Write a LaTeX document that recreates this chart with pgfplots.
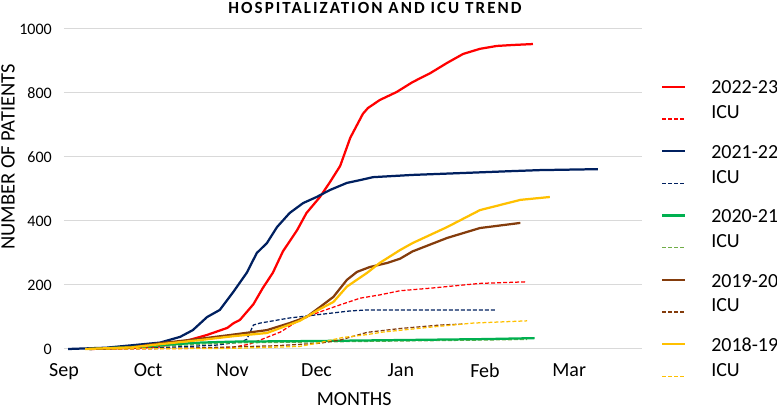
\documentclass[border=0pt]{standalone}
\usepackage{fontspec}
\setmainfont{Carlito}
\newfontfamily\titlefont[LetterSpace=12]{Carlito}
\usepackage{pgfplots}
\pgfplotsset{compat=1.18}
\definecolor{c22}{HTML}{FF0000}
\definecolor{c21}{HTML}{002060}
\definecolor{c20}{HTML}{00B050}
\definecolor{c20i}{HTML}{70AD47}
\definecolor{c19}{HTML}{843C0C}
\definecolor{c18}{HTML}{FFC000}
\definecolor{gridc}{HTML}{D9D9D9}
\newcommand\yr[1]{\rule{0pt}{16bp}#1}
\newcommand\icu{\rule{0pt}{16bp}\smash{\raisebox{7.5bp}{ICU}}}
\begin{document}
\begin{tikzpicture}
\useasboundingbox (0,0) rectangle (777bp,410bp);
\begin{axis}[
  at={(64bp,61bp)}, anchor=south west,
  scale only axis, width=578bp, height=320bp,
  xmin=0, xmax=6.865, ymin=0, ymax=1000,
  clip=false,
  axis line style={draw=none},
  xtick={0,...,6}, xticklabels={Sep,Oct,Nov,Dec,Jan,Feb,Mar},
  ytick={0,200,...,1000},
  major tick length=0pt,
  ymajorgrids, grid style={gridc, line width=1bp},
  /pgf/number format/assume math mode=true,
  /pgf/number format/set thousands separator={},
  xticklabel style={font=\fontsize{20bp}{20bp}\selectfont, inner sep=0pt, yshift=-14bp},
  yticklabel style={font=\fontsize{16bp}{16bp}\selectfont, inner sep=0pt, xshift=-12bp},
  xlabel={MONTHS},
  xlabel style={font=\fontsize{20bp}{20bp}\selectfont, at={(axis description cs:0.502,-0.178)}, anchor=base, inner sep=0pt},
  ylabel={NUMBER OF PATIENTS},
  ylabel style={font=\fontsize{20.5bp}{20.5bp}\selectfont, at={(axis description cs:-0.097,0.6)}, anchor=center, inner sep=0pt},
  legend style={at={(axis description cs:1.0329,0.847)}, anchor=north west, draw=none, fill=none,
    inner sep=0pt, outer sep=0pt, row sep=14.7bp,
    nodes={inner sep=0pt, font=\fontsize{20bp}{20bp}\selectfont},
    /tikz/every odd column/.append style={column sep=25bp}},
  legend cell align=left,
  legend image code/.code={\draw[#1] (0bp,0bp) -- (23bp,0bp);},
  main/.style={line width=2.25pt, line join=round},
  icu/.style={line width=1.25bp, dash pattern=on 4bp off 2bp},
]
\node[anchor=base, inner sep=0pt, font=\titlefont\bfseries\fontsize{17bp}{17bp}\selectfont]
  at (axis description cs:0.538,1.0469) {HOSPITALIZATION AND ICU TREND};
% 2022-23
\addplot[main, c22] coordinates {
(0.3,0) (0.8,3) (1.14,8) (1.46,26) (1.70,44) (1.94,66) (2.01,80) (2.09,91) (2.25,140)
(2.36,190) (2.48,238) (2.60,305) (2.77,372) (2.88,425) (3.04,475) (3.16,522)
(3.28,572) (3.40,660) (3.55,735) (3.61,753) (3.75,778) (3.95,803) (4.14,834)
(4.35,862) (4.55,894) (4.74,922) (4.94,938) (5.14,947) (5.33,950) (5.57,953)};
\addlegendentry{\yr{2022-23}}
\addplot[icu, c22] coordinates {
(0.5,0) (1.5,2) (2.0,5) (2.2,15) (2.33,28) (2.57,53) (2.80,91) (3.04,116)
(3.28,138) (3.52,159) (3.75,169) (3.99,182) (4.35,190) (4.94,205) (5.50,210)};
\addlegendentry{\icu}
% 2021-22
\addplot[main, c21] coordinates {
(0.05,0) (0.5,4) (0.82,12) (1.14,20) (1.38,38) (1.53,59) (1.70,100) (1.85,122)
(2.01,178) (2.17,238) (2.29,300) (2.41,331) (2.53,381) (2.68,425) (2.84,456)
(3.00,475) (3.16,497) (3.36,519) (3.52,528) (3.67,537) (4.14,544) (4.74,550)
(5.33,556) (5.65,559) (6.34,562)};
\addlegendentry{\yr{2021-22}}
\addplot[icu, c21] coordinates {
(0.5,0) (1.2,5) (1.8,12) (2.1,22) (2.17,30) (2.25,75) (2.33,81) (2.68,97)
(3.04,108) (3.40,119) (3.60,122) (5.14,122)};
\addlegendentry{\icu}
% 2020-21 (ICU series drawn first, underneath)
\addplot[icu, c20i, forget plot] coordinates {
(0.5,0) (1.14,8) (1.62,15) (2.0,19) (3.0,22) (4.0,25) (5.0,28) (5.5,30)};
\addplot[main, c20] coordinates {
(0.3,0) (0.8,6) (1.14,12) (1.62,20) (2.0,23) (3.0,25) (4.0,28) (5.0,31) (5.59,34)};
\addlegendentry{\yr{2020-21}}
\addlegendimage{icu, c20i}
\addlegendentry{\icu}
% 2019-20
\addplot[main, c19] coordinates {
(0.3,0) (0.8,5) (1.14,18) (1.62,32) (2.01,45) (2.41,59) (2.68,81) (2.88,100)
(3.04,131) (3.20,163) (3.36,216) (3.48,241) (3.63,256) (3.84,269) (3.99,282)
(4.14,305) (4.55,347) (4.94,378) (5.42,394)};
\addlegendentry{\yr{2019-20}}
\addplot[icu, c19] coordinates {
(0.5,0) (1.5,3) (2.5,10) (3.04,18) (3.28,28) (3.60,52) (3.99,64) (4.47,75) (4.74,78)};
\addlegendentry{\icu}
% 2018-19
\addplot[main, c18] coordinates {
(0.25,0) (0.8,5) (1.14,15) (1.62,28) (2.01,40) (2.41,50) (2.80,88) (3.04,125)
(3.20,147) (3.36,195) (3.60,238) (3.75,269) (3.99,309) (4.14,331) (4.55,381)
(4.94,434) (5.42,466) (5.77,475)};
\addlegendentry{\yr{2018-19}}
\addplot[icu, c18] coordinates {
(0.5,0) (2.0,2) (2.8,8) (3.04,20) (3.31,36) (3.60,45) (3.79,53) (4.38,69) (4.86,81) (5.50,88)};
\addlegendentry{\icu}
\end{axis}
\end{tikzpicture}
\end{document}
